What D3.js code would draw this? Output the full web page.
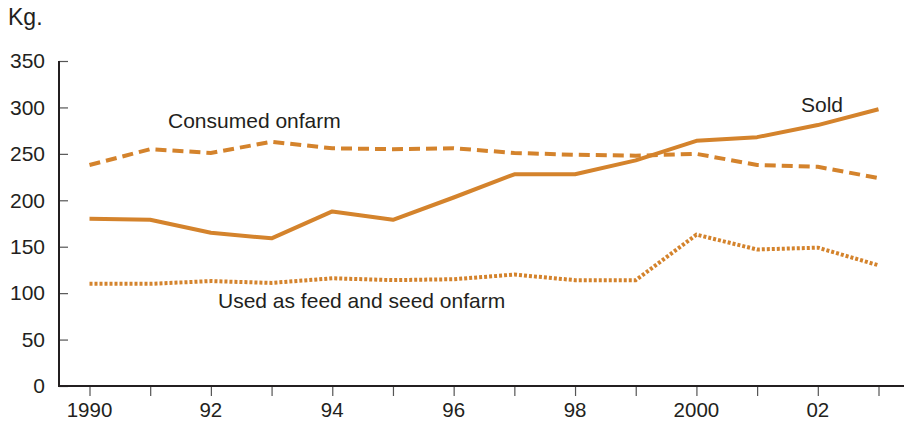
<!DOCTYPE html>
<html>
<head>
<meta charset="utf-8">
<script src="https://cdn.jsdelivr.net/npm/d3@7"></script>
<style>
  html, body { margin: 0; padding: 0; background: #fff; }
  svg { display: block; }
  text { font-family: "Liberation Sans", Arial, Helvetica, sans-serif; fill: #231f20; }
</style>
</head>
<body>
<svg id="chart" width="904" height="421"></svg>
<script>
const years = [1990, 1991, 1992, 1993, 1994, 1995, 1996, 1997, 1998, 1999, 2000, 2001, 2002, 2003];
const sold = [180, 179, 165, 159, 188, 179, 203, 228, 228, 243, 264, 268, 281, 298];
const consumedOnfarm = [238, 255, 251, 263, 256, 255, 256, 251, 249, 248, 250, 238, 236, 224];
const feedSeedOnfarm = [110, 110, 113, 111, 116, 114, 115, 120, 114, 114, 163, 147, 149, 130];
const yTicks = [0, 50, 100, 150, 200, 250, 300, 350];
const xTickLabels = { 1990: "1990", 1992: "92", 1994: "94", 1996: "96", 1998: "98", 2000: "2000", 2002: "02" };
const seriesLabels = ["Consumed onfarm", "Used as feed and seed onfarm", "Sold"];
const unitLabel = "Kg.";

const color = "#d4832c";
const svg = d3.select("#chart");

const x = d3.scaleLinear().domain([1990, 2003]).range([89.5, 878.5]);
const y = d3.scaleLinear().domain([0, 350]).range([386, 61]);

// Y axis
const yAxis = svg.append("g").attr("transform", "translate(59,0)")
  .call(d3.axisRight(y).tickValues(yTicks).tickSize(9).tickFormat(""));
yAxis.select(".domain").remove();
yAxis.selectAll(".tick line").attr("stroke", "#555").attr("stroke-width", 1.2);
svg.append("line").attr("x1", 59).attr("x2", 59).attr("y1", y(350)).attr("y2", y(0) + 1)
  .attr("stroke", "#231f20").attr("stroke-width", 2);
svg.append("g").selectAll("text").data(yTicks).join("text")
  .attr("x", 45).attr("y", d => y(d)).attr("dy", "0.35em")
  .attr("text-anchor", "end").attr("font-size", 21).text(d => d);

// X axis
const xAxis = svg.append("g").attr("transform", "translate(0,386)")
  .call(d3.axisBottom(x).tickValues(years).tickSize(10).tickFormat(""));
xAxis.select(".domain").remove();
xAxis.selectAll(".tick line").attr("stroke", "#555").attr("stroke-width", 1.2);
svg.append("line").attr("x1", 58).attr("x2", 904).attr("y1", 386).attr("y2", 386)
  .attr("stroke", "#231f20").attr("stroke-width", 2);
svg.append("g").selectAll("text").data(years.filter(d => xTickLabels[d])).join("text")
  .attr("x", d => x(d)).attr("y", 417)
  .attr("text-anchor", "middle").attr("font-size", 20.5).text(d => xTickLabels[d]);

// Unit label
svg.append("text").attr("x", 8).attr("y", 25).attr("font-size", 23).text(unitLabel);

// Lines
const line = d3.line().x((d, i) => x(years[i])).y(d => y(d));
svg.append("path").datum(consumedOnfarm).attr("d", line)
  .attr("fill", "none").attr("stroke", color).attr("stroke-width", 4)
  .attr("stroke-dasharray", "11,6");
svg.append("path").datum(feedSeedOnfarm).attr("d", line)
  .attr("fill", "none").attr("stroke", color).attr("stroke-width", 4)
  .attr("stroke-dasharray", "3,2");
svg.append("path").datum(sold).attr("d", line)
  .attr("fill", "none").attr("stroke", color).attr("stroke-width", 4)
  .attr("stroke-linejoin", "round");

// Series labels
svg.append("text").attr("x", 168).attr("y", 128).attr("font-size", 21).text(seriesLabels[0]);
svg.append("text").attr("x", 218).attr("y", 307.5).attr("font-size", 21).text(seriesLabels[1]);
svg.append("text").attr("x", 801).attr("y", 111.5).attr("font-size", 21).text(seriesLabels[2]);
</script>
</body>
</html>
